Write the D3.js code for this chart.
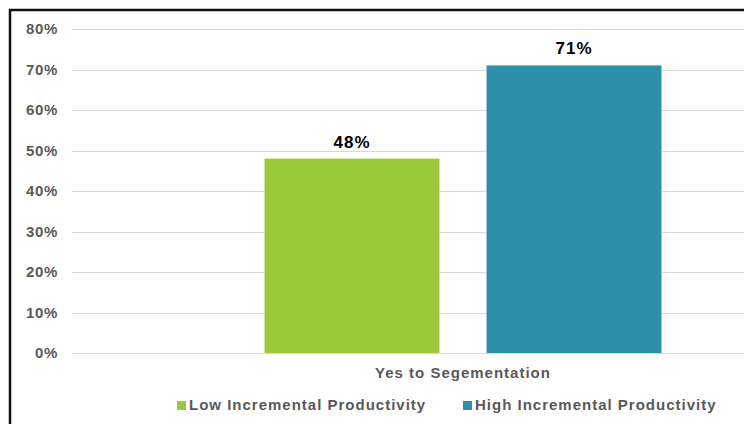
<!DOCTYPE html>
<html>
<head>
<meta charset="utf-8">
<script src="https://cdn.jsdelivr.net/npm/d3@7"></script>
<style>
  body { margin: 0; background: #fff; }
  svg { display: block; font-family: "Liberation Sans", Arial, sans-serif; }
</style>
</head>
<body>
<svg width="744" height="424"></svg>
<script>
var categories = ["Yes to Segementation"];
var seriesNames = ["Low Incremental Productivity", "High Incremental Productivity"];
var seriesValues = [[0.48], [0.71]];
var seriesColors = ["#9aca3c", "#2e8fa8"];
var yTicks = [0, 0.1, 0.2, 0.3, 0.4, 0.5, 0.6, 0.7, 0.8];

var svg = d3.select("svg"),
    width = +svg.attr("width"),
    height = +svg.attr("height");

var format = d3.format(".0%");

// plot area runs past the right edge (the source image is cropped)
var x0 = d3.scaleBand()
    .domain(categories)
    .range([72, 854])
    .paddingOuter(0.485);

var x1 = d3.scaleBand()
    .domain(seriesNames)
    .range([0, x0.bandwidth()])
    .paddingInner(0.212);

var y = d3.scaleLinear()
    .domain([0, 0.8])
    .range([353, 29]);

// frame
svg.append("path")
    .attr("d", "M10,424 V10 H744")
    .attr("fill", "none")
    .attr("stroke", "#111")
    .attr("stroke-width", 2.5);

// gridlines
svg.append("g")
    .selectAll("line")
    .data(yTicks)
    .enter().append("line")
    .attr("x1", 72)
    .attr("x2", width)
    .attr("y1", function (d) { return Math.round(y(d)) + 0.5; })
    .attr("y2", function (d) { return Math.round(y(d)) + 0.5; })
    .attr("stroke", "#d9d9d9")
    .attr("stroke-width", 1);

// y axis labels
var yAxis = d3.axisLeft(y)
    .tickValues(yTicks)
    .tickFormat(format)
    .tickSize(0)
    .tickPadding(0);

var yg = svg.append("g")
    .attr("transform", "translate(58,0)")
    .call(yAxis);
yg.select(".domain").remove();
yg.selectAll("text")
    .attr("fill", "#595959")
    .attr("font-size", 15)
    .attr("font-weight", "bold")
    .attr("letter-spacing", 0.7)
    .attr("font-family", "Liberation Sans, Arial, sans-serif");

// bars
var groups = svg.append("g")
    .selectAll("g")
    .data(categories)
    .enter().append("g")
    .attr("transform", function (d) { return "translate(" + x0(d) + ",0)"; });

groups.selectAll("rect")
    .data(function (d, i) {
        return seriesNames.map(function (s, j) { return { series: s, value: seriesValues[j][i], color: seriesColors[j] }; });
    })
    .enter().append("rect")
    .attr("x", function (d) { return x1(d.series); })
    .attr("y", function (d) { return y(d.value); })
    .attr("width", x1.bandwidth())
    .attr("height", function (d) { return y(0) - y(d.value); })
    .attr("fill", function (d) { return d.color; });

groups.selectAll("text.val")
    .data(function (d, i) {
        return seriesNames.map(function (s, j) { return { series: s, value: seriesValues[j][i] }; });
    })
    .enter().append("text")
    .attr("class", "val")
    .attr("x", function (d) { return x1(d.series) + x1.bandwidth() / 2; })
    .attr("y", function (d) { return y(d.value) - 11; })
    .attr("text-anchor", "middle")
    .attr("font-size", 17)
    .attr("font-weight", "bold")
    .attr("letter-spacing", 1)
    .attr("fill", "#000")
    .text(function (d) { return format(d.value); });

// category labels
svg.append("g")
    .selectAll("text")
    .data(categories)
    .enter().append("text")
    .attr("x", function (d) { return x0(d) + x0.bandwidth() / 2; })
    .attr("y", 378)
    .attr("text-anchor", "middle")
    .attr("font-size", 15)
    .attr("font-weight", "bold")
    .attr("letter-spacing", 1)
    .attr("fill", "#595959")
    .text(function (d) { return d; });

// legend
var legendX = [177, 463];
var legend = svg.append("g")
    .selectAll("g")
    .data(seriesNames)
    .enter().append("g")
    .attr("transform", function (d, i) { return "translate(" + legendX[i] + ",401)"; });

legend.append("rect")
    .attr("width", 9)
    .attr("height", 9)
    .attr("fill", function (d, i) { return seriesColors[i]; });

legend.append("text")
    .attr("x", 12)
    .attr("y", 9)
    .attr("font-size", 15)
    .attr("font-weight", "bold")
    .attr("letter-spacing", 1)
    .attr("fill", "#595959")
    .text(function (d) { return d; });
</script>
</body>
</html>
